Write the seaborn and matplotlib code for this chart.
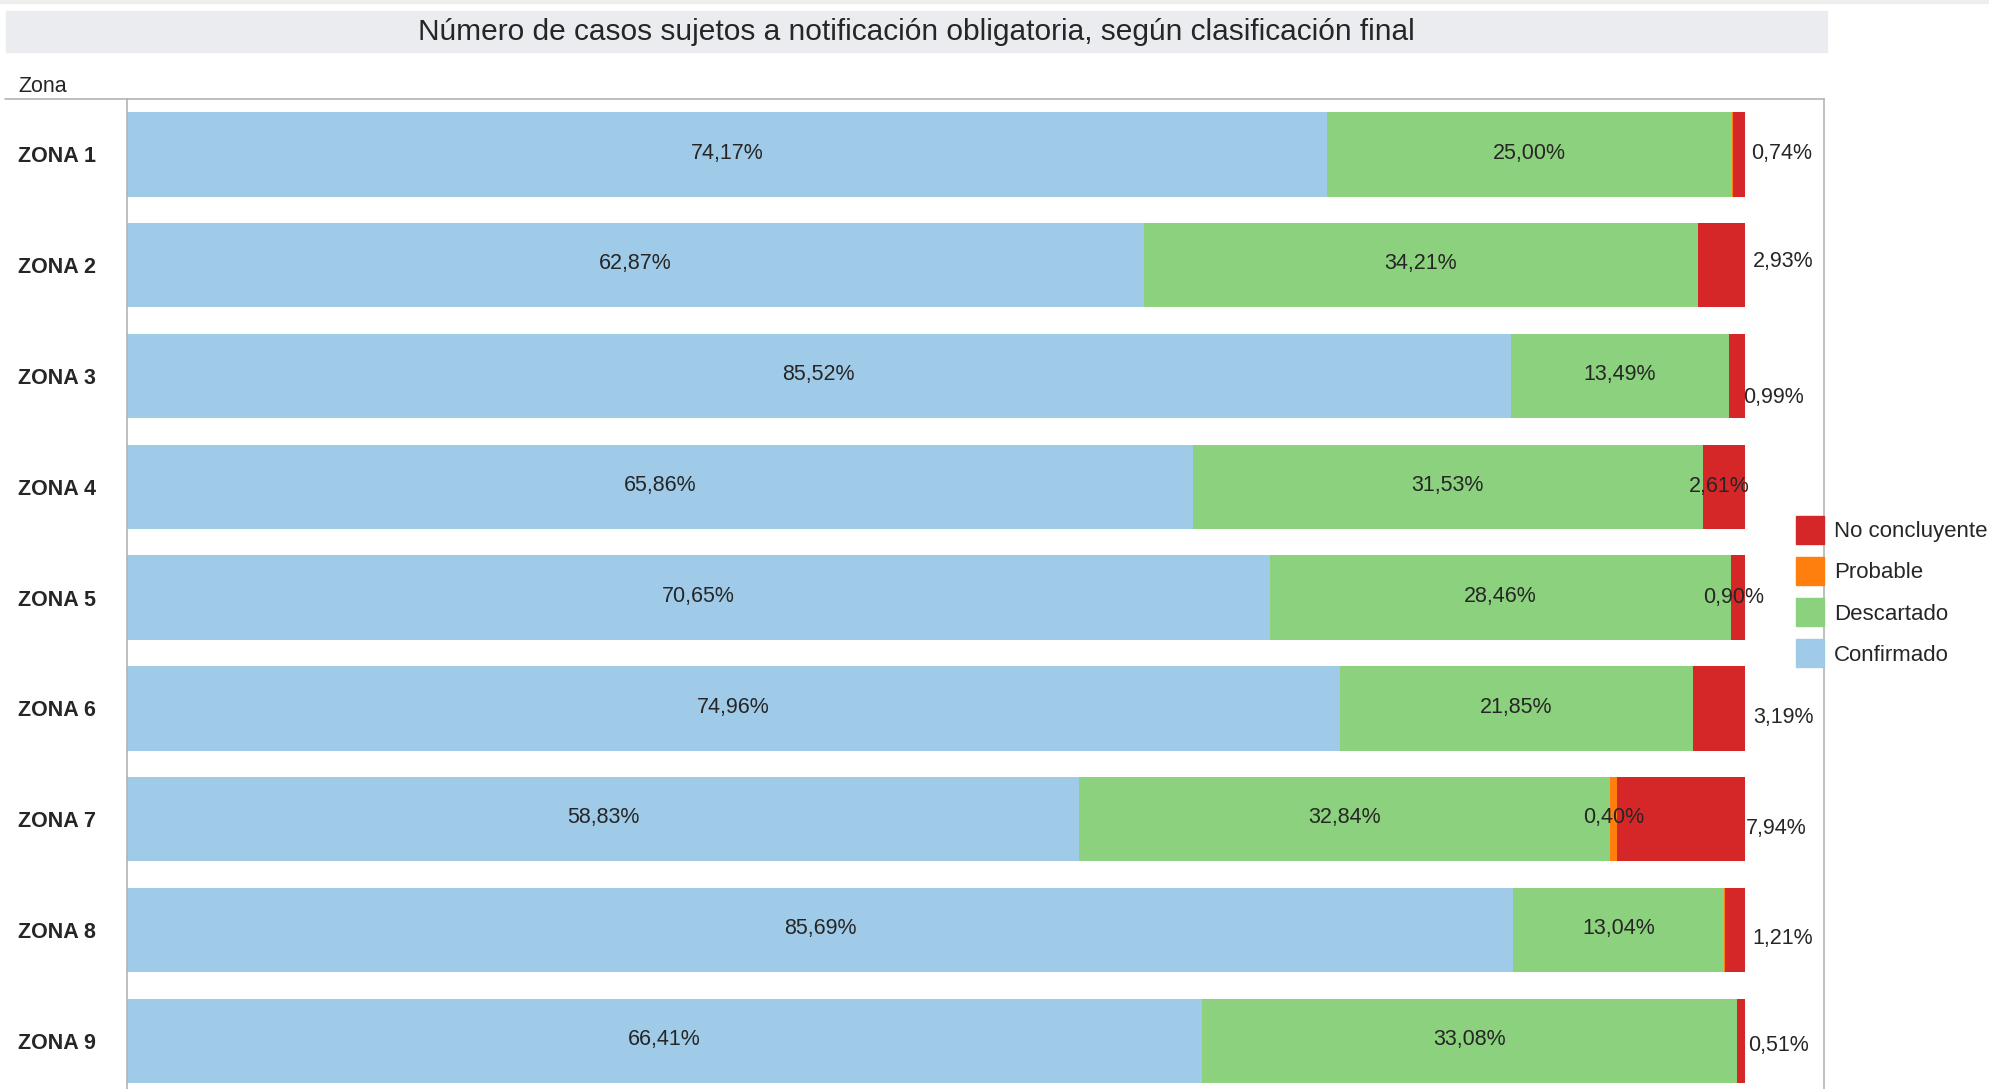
import matplotlib.pyplot as plt
import seaborn as sns
from matplotlib.patches import Patch, Rectangle
from matplotlib.lines import Line2D

# data (percent of cases per zone)
zones = ['ZONA 1', 'ZONA 2', 'ZONA 3', 'ZONA 4', 'ZONA 5',
         'ZONA 6', 'ZONA 7', 'ZONA 8', 'ZONA 9']
confirmado = [74.17, 62.87, 85.52, 65.86, 70.65, 74.96, 58.83, 85.69, 66.41]
descartado = [25.00, 34.21, 13.49, 31.53, 28.46, 21.85, 32.84, 13.04, 33.08]
probable = [0.09, 0.00, 0.00, 0.00, 0.00, 0.00, 0.40, 0.06, 0.00]
no_concluyente = [0.74, 2.93, 0.99, 2.61, 0.90, 3.19, 7.94, 1.21, 0.51]

legend_labels = ['No concluyente', 'Probable', 'Descartado', 'Confirmado']
title = 'Número de casos sujetos a notificación obligatoria, según clasificación final'

# where the "No concluyente" labels sit relative to the bar end (pixels)
nc_dx = [6, 8, -2, -56, -42, 8, 1, 7, 3]
nc_dy = [-1, -4, 21, 0, 0, 9, 9, 9, 5]

c_blue = '#a0cbe8'
c_green = '#8cd17d'
c_orange = '#ff7f0e'
c_red = '#d62728'

sns.set_theme(style='white')
plt.rcParams['font.family'] = ['Liberation Sans', 'DejaVu Sans']

W, H = 1989, 1089
AX_L = 127
fig = plt.figure(figsize=(W / 100, H / 100), dpi=100)

# title band and top strip
fig.patches.append(Rectangle((0, 1 - 3 / H), 1, 3 / H, transform=fig.transFigure,
                             color='#eeeeee', zorder=0))
fig.patches.append(Rectangle((6 / W, 1 - 52 / H), 1821 / W, 41 / H,
                             transform=fig.transFigure, color='#ebecef', zorder=0))
fig.text(916 / W, 1 - 31.5 / H, title, ha='center', va='center', fontsize=21.5)
fig.text(18 / W, 1 - 86 / H, 'Zona', ha='left', va='center', fontsize=15.5)
fig.lines.append(Line2D([5 / W, AX_L / W], [1 - 99 / H, 1 - 99 / H],
                        transform=fig.transFigure, color='#b4b4b4', lw=1.2))

ax = fig.add_axes([AX_L / W, 0, (1824 - AX_L) / W, 990 / H])

c1 = [a for a in confirmado]
c2 = [a + b for a, b in zip(c1, descartado)]
c3 = [a + b for a, b in zip(c2, probable)]
c4 = [a + b for a, b in zip(c3, no_concluyente)]

for cum, col in [(c4, c_red), (c3, c_orange), (c2, c_green), (c1, c_blue)]:
    sns.barplot(x=cum, y=zones, orient='h', color=col, saturation=1,
                width=0.76, linewidth=0, errorbar=None, ax=ax)


def fmt(v):
    return f'{v:.2f}%'.replace('.', ',')


for i in range(len(zones)):
    ax.annotate(fmt(confirmado[i]), (c1[i] / 2, i), xytext=(0, 1),
                textcoords='offset points', ha='center', va='center', fontsize=15.5)
    ax.annotate(fmt(descartado[i]), ((c1[i] + c2[i]) / 2, i), xytext=(0, 1),
                textcoords='offset points', ha='center', va='center', fontsize=15.5)
    if probable[i] >= 0.2:
        ax.annotate(fmt(probable[i]), ((c2[i] + c3[i]) / 2, i), xytext=(0, 1),
                    textcoords='offset points', ha='center', va='center', fontsize=15.5)
    ax.annotate(fmt(no_concluyente[i]), (100, i),
                xytext=(nc_dx[i] * 0.72, -nc_dy[i] * 0.72),
                textcoords='offset points', ha='left', va='center', fontsize=15.5)

ax.set_xlim(0, (1824 - AX_L) / 1618 * 100)
ax.set_ylim(-0.5 + 990 / 110.8, -0.5)
ax.set_xticks([])
ax.set_xlabel('')
ax.set_ylabel('')
ax.tick_params(axis='y', length=0, pad=(AX_L - 18) * 0.72)
for lab in ax.get_yticklabels():
    lab.set_ha('left')
    lab.set_fontweight('bold')
    lab.set_fontsize(15.5)
for side in ['top', 'left', 'right']:
    ax.spines[side].set_visible(True)
    ax.spines[side].set_color('#b4b4b4')
    ax.spines[side].set_linewidth(1.2)
ax.spines['bottom'].set_visible(False)

handles = [Patch(color=c) for c in [c_red, c_orange, c_green, c_blue]]
fig.legend(handles, legend_labels, loc='upper left',
           bbox_to_anchor=(1796 / W, 1 - 516 / H), frameon=False, borderpad=0,
           handlelength=1.25, handleheight=1.55, handletextpad=0.45,
           labelspacing=0.6, fontsize=16, borderaxespad=0)

fig.savefig('out.png', dpi=100)
